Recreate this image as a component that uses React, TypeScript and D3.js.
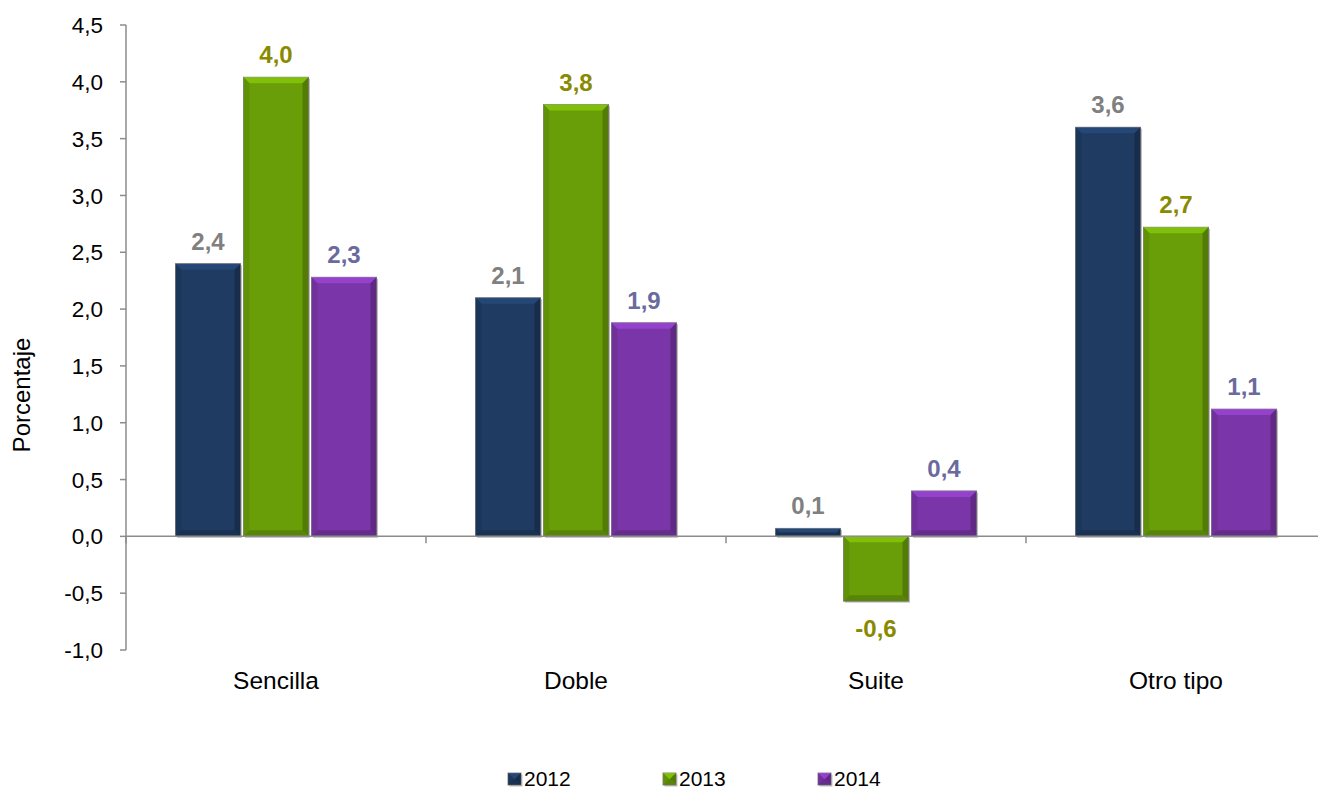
import React from "react";
import * as d3 from "d3";

const categories = ["Sencilla", "Doble", "Suite", "Otro tipo"];
const years = ["2012", "2013", "2014"];
const values2012 = [2.4, 2.1, 0.07, 3.6];
const values2013 = [4.04, 3.8, -0.57, 2.72];
const values2014 = [2.28, 1.88, 0.4, 1.12];
const yTicks = [-1, -0.5, 0, 0.5, 1, 1.5, 2, 2.5, 3, 3.5, 4, 4.5];

const seriesValues = [values2012, values2013, values2014];
const barColors = ["#1F3B62", "#6A9E08", "#7A36A8"];
const labelColors = ["#808080", "#8A8A00", "#6A6A9E"];

const W = 1318;
const H = 790;
const FONT = "Arial, 'Liberation Sans', sans-serif";

const fmt = (v: number) => d3.format(".1f")(v).replace(".", ",").replace("−", "-");

function Bar({ x, y, w, h, color }: { x: number; y: number; w: number; h: number; color: string }) {
  const b = Math.min(6, h / 2);
  const c = d3.color(color)!;
  const light = c.brighter(0.7).formatHex();
  const dark = c.darker(0.9).formatHex();
  const mid = c.darker(0.35).formatHex();
  return (
    <g>
      <rect x={x + 1.5} y={y + 1.5} width={w} height={h} fill="#000" opacity={0.25} />
      <rect x={x} y={y} width={w} height={h} fill={color} stroke="#8a8a8a" strokeWidth={1} />
      <polygon points={`${x},${y} ${x + w},${y} ${x + w - b},${y + b} ${x + b},${y + b}`} fill={light} opacity={0.75} />
      <polygon points={`${x},${y} ${x + b},${y + b} ${x + b},${y + h - b} ${x},${y + h}`} fill={mid} opacity={0.7} />
      <polygon points={`${x + w},${y} ${x + w},${y + h} ${x + w - b},${y + h - b} ${x + w - b},${y + b}`} fill={dark} opacity={0.8} />
      <polygon points={`${x},${y + h} ${x + w},${y + h} ${x + w - b},${y + h - b} ${x + b},${y + h - b}`} fill={dark} opacity={0.6} />
    </g>
  );
}

export default function App() {
  const x = d3.scaleBand<string>().domain(categories).range([126, 1326]).paddingInner(0).paddingOuter(0);
  const xs = d3.scaleBand<string>().domain(years).range([0, x.bandwidth()]).paddingInner(0.044).paddingOuter(0.728);
  const y = d3.scaleLinear().domain([-1, 4.5]).range([650, 25]);
  const y0 = y(0);
  const boundaries = categories.map((c) => x(c)!).concat([x.range()[1]]);

  return (
    <div style={{ position: "fixed", left: 0, top: 0 }}>
      <svg width={W} height={H} style={{ display: "block", background: "#fff" }} fontFamily={FONT}>
        {/* y axis */}
        <line x1={126} x2={126} y1={y(4.5)} y2={y(-1)} stroke="#8c8c8c" strokeWidth={1.5} />
        {yTicks.map((t) => (
          <g key={t}>
            <line x1={120} x2={126} y1={y(t)} y2={y(t)} stroke="#8c8c8c" strokeWidth={1.5} />
            <text x={103} y={y(t)} dy="0.36em" textAnchor="end" fontSize={22.5} fill="#000">
              {fmt(t)}
            </text>
          </g>
        ))}
        <text transform={`translate(30,395) rotate(-90)`} textAnchor="middle" fontSize={24} fill="#000">
          Porcentaje
        </text>

        {/* bars */}
        {categories.map((c, ci) =>
          years.map((yr, si) => {
            const v = seriesValues[si][ci];
            const bx = x(c)! + xs(yr)!;
            const bw = xs.bandwidth();
            const top = Math.min(y(v), y0);
            const h = Math.abs(y(v) - y0);
            return <Bar key={c + yr} x={bx} y={top} w={bw} h={h} color={barColors[si]} />;
          })
        )}

        {/* x axis */}
        <line x1={126} x2={x.range()[1]} y1={y0} y2={y0} stroke="#8c8c8c" strokeWidth={1.5} />
        {boundaries.map((b, i) => (
          <line key={i} x1={b} x2={b} y1={y0} y2={y0 + 7} stroke="#8c8c8c" strokeWidth={1.5} />
        ))}

        {/* labels */}
        {categories.map((c, ci) =>
          years.map((yr, si) => {
            const v = seriesValues[si][ci];
            const cx = x(c)! + xs(yr)! + xs.bandwidth() / 2;
            const ly = v >= 0 ? y(v) - 14 : y(v) + 36;
            return (
              <text key={"l" + c + yr} x={cx} y={ly} textAnchor="middle" fontSize={24} fontWeight="bold" fill={labelColors[si]}>
                {fmt(v)}
              </text>
            );
          })
        )}

        {/* category labels */}
        {categories.map((c) => (
          <text key={"c" + c} x={x(c)! + x.bandwidth() / 2} y={689} textAnchor="middle" fontSize={24.5} fill="#000">
            {c}
          </text>
        ))}

        {/* legend */}
        {years.map((yr, i) => {
          const lx = 508 + i * 155;
          return (
            <g key={"lg" + yr}>
              <Bar x={lx} y={773} w={13} h={12} color={barColors[i]} />
              <text x={lx + 16} y={786} fontSize={21} fill="#000">
                {yr}
              </text>
            </g>
          );
        })}
      </svg>
    </div>
  );
}
